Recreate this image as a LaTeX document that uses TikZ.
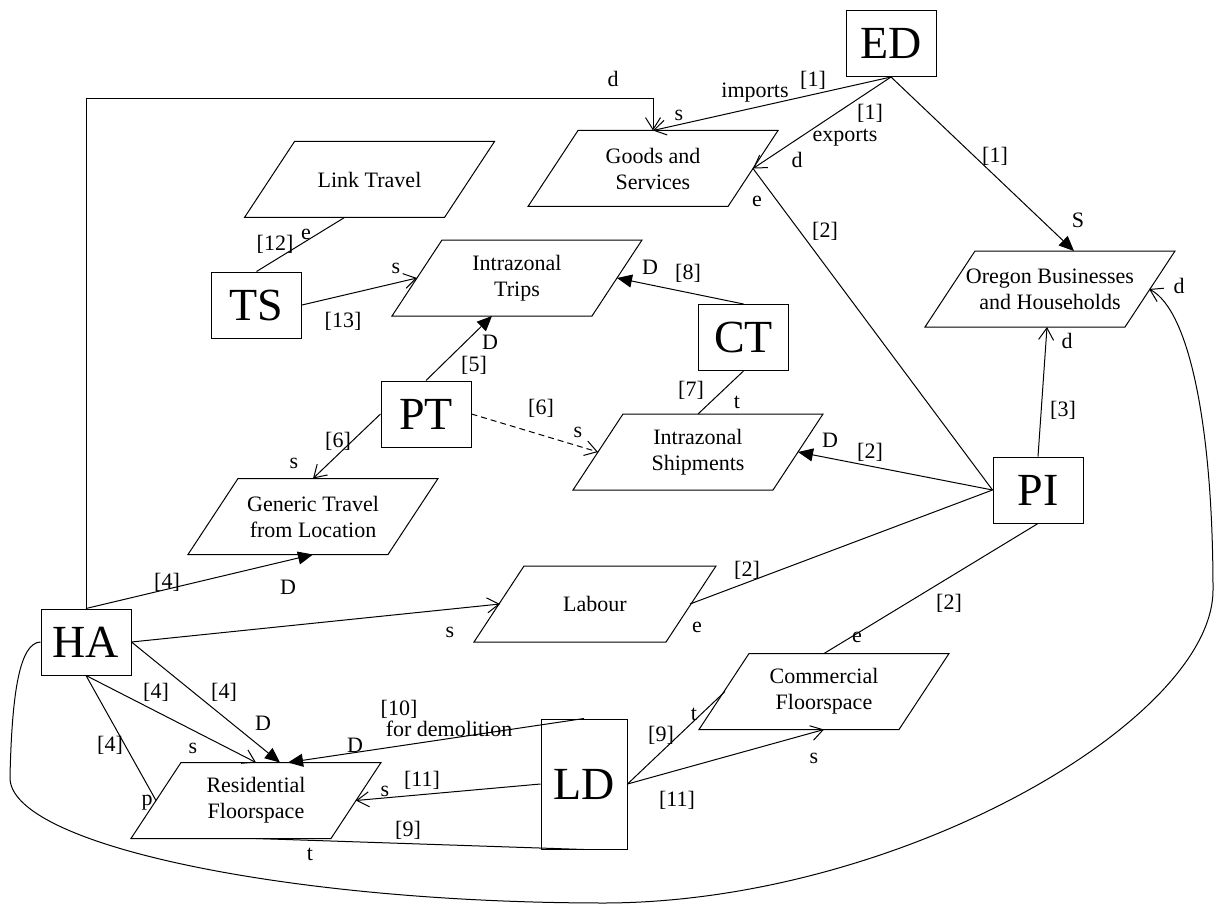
\documentclass[tikz,border=0pt]{standalone}
\usepackage{fontspec}
\setmainfont{Liberation Serif}
\usetikzlibrary{arrows.meta}
\tikzset{
 bigbox/.style={draw, line width=1pt, minimum width=90pt, minimum height=66pt, inner sep=0pt, font=\fontsize{46}{50}\selectfont},
 pbox/.style={minimum width=150pt, minimum height=76pt, inner sep=0pt, outer sep=0pt},
 ptext/.style={align=center, inner sep=0pt, font=\fontsize{22}{26}\selectfont},
 lbl/.style={anchor=base, inner sep=0pt, font=\fontsize{22}{26}\selectfont},
 oarr/.style={-{Straight Barb[length=12pt,width=15pt,line width=1pt]}},
 farr/.style={-{Triangle[length=15pt,width=13pt]}},
}
\newcommand\paraoutline[1]{\draw[line width=1pt] ([xshift=-50pt]#1.south west) -- (#1.north west) -- ([xshift=50pt]#1.north east) -- (#1.south east) -- cycle;}
\begin{document}
\begin{tikzpicture}[x=1pt,y=-1pt,line width=1pt]
\useasboundingbox (0,0) rectangle (1215,904);
% boxes
\node[bigbox] (ED) at (891,43.5) {ED};
\node[bigbox] (TS) at (256.5,305) {TS};
\node[bigbox] (CT) at (743.5,337.5) {CT};
\node[bigbox] (PT) at (426,414) {PT};
\node[bigbox] (PI) at (1038,490) {PI};
\node[bigbox] (HA) at (86,642) {HA};
\node[bigbox, minimum width=86pt, minimum height=130pt] (LD) at (584,784) {LD};
% parallelograms
\node[pbox] (GS) at (653,168.5) {};
\node[pbox] (LT) at (369.5,179.5) {};
\node[pbox] (IT) at (517,278) {};
\node[pbox] (IS) at (698,452) {};
\node[pbox] (GT) at (313,516.5) {};
\node[pbox] (OB) at (1050,289) {};
\node[pbox, minimum width=142pt] (LB) at (595,604) {};
\node[pbox] (CF) at (824,691.5) {};
\node[pbox] (RF) at (256,800.5) {};
\foreach \n in {GS,LT,IT,IS,GT,OB,LB,CF,RF} {\paraoutline{\n}}
\node[ptext] (GSt) at (GS) {Goods and\\Services};
\node[ptext] (LTt) at (LT) {Link Travel};
\node[ptext] (ITt) at (IT) {Intrazonal\\Trips};
\node[ptext] (ISt) at (IS) {Intrazonal\\Shipments};
\node[ptext] (GTt) at (GT) {Generic Travel\\from Location};
\node[ptext] (OBt) at (OB) {Oregon Businesses\\and Households};
\node[ptext] (LBt) at (LB) {Labour};
\node[ptext] (CFt) at (CF) {Commercial\\Floorspace};
\node[ptext] (RFt) at (RF) {Residential\\Floorspace};
% connectors
\draw[oarr] (ED.south) -- (GS.north);
\draw[oarr] (HA.north) |- ([yshift=32pt]GS.north) -- (GS.north);
\draw[oarr] (ED.south) -- ([xshift=25pt]GS.east);
\draw[farr] (ED.south) -- ([xshift=24pt]OB.north);
\draw (PI.west) -- ([xshift=25pt]GS.east);
\draw[farr] (PI.west) -- ([xshift=25pt]IS.east);
\draw (PI.west) -- ([xshift=24pt]LB.east);
\draw (PI.south) -- (CF.north);
\draw[oarr] (PI.north) -- ([xshift=-3pt]OB.south);
\draw[oarr] (HA.west) .. controls (20,643) and (12,690) .. (10,777)
  .. controls (8,845) and (290,903) .. (605,903)
  .. controls (900,902) and (1213,720) .. (1213,590)
  .. controls (1213,430) and (1190,310) .. ([xshift=24pt]OB.east);
\draw[oarr] (TS.east) -- ([xshift=-25pt]IT.west);
\draw (TS.north) -- ([xshift=-25pt]LT.south);
\draw[farr] (CT.north) -- ([xshift=25pt]IT.east);
\draw (CT.south) -- (IS.north);
\draw[farr] (PT.north) -- ([xshift=-25pt]IT.south);
\draw[oarr] (PT.west) -- (GT.north);
\draw[oarr, dash pattern=on 6pt off 4pt] (PT.east) -- ([xshift=-25pt]IS.west);
\draw[farr] (HA.north) -- (GT.south);
\draw[oarr] (HA.east) -- ([xshift=-24pt]LB.west);
\draw[farr] (HA.east) -- ([xshift=24pt]RF.north);
\draw[oarr] (HA.south) -- (RF.north);
\draw (HA.south) -- ([xshift=-25pt]RF.west);
\draw[farr] (LD.north) -- ([xshift=32pt]RF.north);
\draw[oarr] (LD.west) -- ([xshift=25pt]RF.east);
\draw (RF.south) -- (LD.south);
\draw (LD.east) -- ([xshift=-24pt]CF.west);
\draw[oarr] (LD.east) -- (CF.south);
% labels
\node[lbl] (l1) at (613,87) {d};
\node[lbl] (l2) at (679,121) {s};
\node[lbl] (l3) at (755,98) {imports};
\node[lbl] (l4) at (813,87) {[1]};
\node[lbl] (l5) at (870,120) {[1]};
\node[lbl] (l6) at (845,142) {exports};
\node[lbl] (l7) at (797,168) {d};
\node[lbl] (l8) at (757,207) {e};
\node[lbl] (l9) at (825,237) {[2]};
\node[lbl] (l10) at (995,163) {[1]};
\node[lbl] (l11) at (1078,228) {S};
\node[lbl] (l12) at (1179,293) {d};
\node[lbl] (l13) at (1067,348) {d};
\node[lbl] (l14) at (1063,416) {[3]};
\node[lbl] (l15) at (275,251) {[12]};
\node[lbl] (l16) at (306,240) {e};
\node[lbl] (l17) at (396,273) {s};
\node[lbl] (l18) at (343,327) {[13]};
\node[lbl] (l19) at (490,349) {D};
\node[lbl] (l20) at (474,371) {[5]};
\node[lbl] (l21) at (338,447) {[6]};
\node[lbl] (l22) at (294,468) {s};
\node[lbl] (l23) at (541,414) {[6]};
\node[lbl] (l24) at (578,437) {s};
\node[lbl] (l25) at (650,274) {D};
\node[lbl] (l26) at (688,279) {[8]};
\node[lbl] (l27) at (691,396) {[7]};
\node[lbl] (l28) at (737,408) {t};
\node[lbl] (l29) at (830,447) {D};
\node[lbl] (l30) at (870,458) {[2]};
\node[lbl] (l31) at (167,588) {[4]};
\node[lbl] (l32) at (288,594) {D};
\node[lbl] (l33) at (747,576) {[2]};
\node[lbl] (l34) at (697,632) {e};
\node[lbl] (l35) at (450,637) {s};
\node[lbl] (l36) at (949,609) {[2]};
\node[lbl] (l37) at (857,642) {e};
\node[lbl] (l38) at (224,698) {[4]};
\node[lbl] (l39) at (156,698) {[4]};
\node[lbl] (l40) at (263,730) {D};
\node[lbl] (l41) at (193,753) {s};
\node[lbl] (l42) at (110,751) {[4]};
\node[lbl] (l43) at (147,805) {p};
\node[lbl] (l44) at (399,715) {[10]};
\node[lbl] (l45) at (449,736) {for demolition};
\node[lbl] (l46) at (355,752) {D};
\node[lbl] (l47) at (422,786) {[11]};
\node[lbl] (l48) at (385,796) {s};
\node[lbl] (l49) at (408,836) {[9]};
\node[lbl] (l50) at (310,860) {t};
\node[lbl] (l51) at (661,741) {[9]};
\node[lbl] (l52) at (694,720) {t};
\node[lbl] (l53) at (814,763) {s};
\node[lbl] (l54) at (677,806) {[11]};
\end{tikzpicture}
\end{document}
